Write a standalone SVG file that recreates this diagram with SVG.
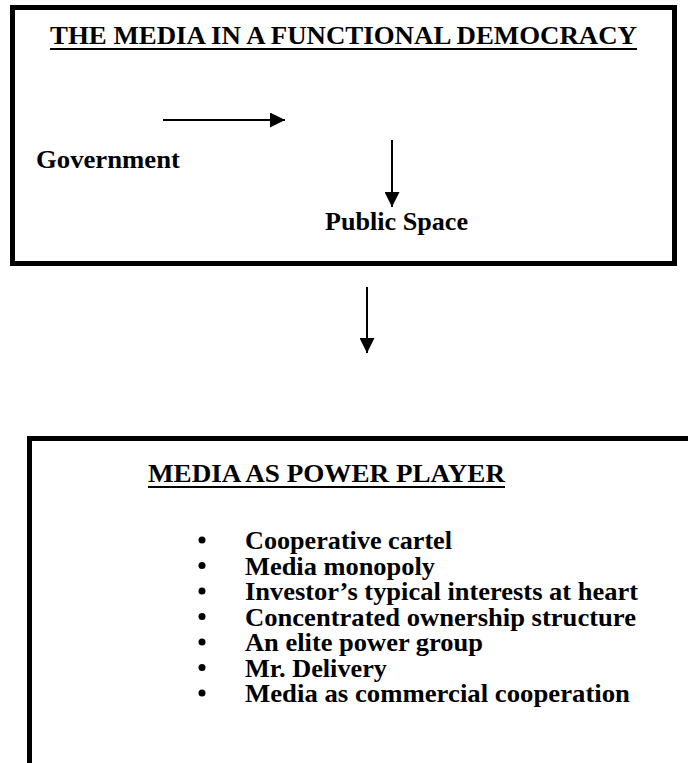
<svg xmlns="http://www.w3.org/2000/svg" width="688" height="763" viewBox="0 0 688 763">
<style>
.t{font-family:"Liberation Serif","Times New Roman",serif;font-weight:bold;font-size:26px;fill:#000}
.b{font-size:25px}
.box{fill:none;stroke:#000;stroke-width:5}
.ul{stroke:#000;stroke-width:2}
.ln{stroke:#000;stroke-width:2;fill:none}
</style>
<defs>
<marker id="ah" viewBox="0 0 10 10" refX="10" refY="5" markerWidth="15" markerHeight="15" markerUnits="userSpaceOnUse" orient="auto">
<path d="M0,0 L10,5 L0,10 Z" fill="#000"/>
</marker>
</defs>
<rect width="688" height="763" fill="#fff"/>
<g id="democracy">
<rect class="box" x="12.5" y="7.5" width="662" height="256"/>
<text class="t" x="50" y="44" textLength="587" lengthAdjust="spacingAndGlyphs">THE MEDIA IN A FUNCTIONAL DEMOCRACY</text>
<line class="ul" x1="50" y1="49" x2="637" y2="49"/>
</g>
<g id="government"><text class="t" x="36" y="168" textLength="144" lengthAdjust="spacingAndGlyphs">Government</text></g>
<g id="public-space"><text class="t" x="325" y="230" textLength="143" lengthAdjust="spacingAndGlyphs">Public Space</text></g>
<g id="power-player">
<path class="box" d="M29.5,770 V438.5 H700"/>
<text class="t" x="148" y="482" textLength="357" lengthAdjust="spacingAndGlyphs">MEDIA AS POWER PLAYER</text>
<line class="ul" x1="148" y1="487" x2="505" y2="487"/>
<g fill="#000">
<circle cx="202" cy="540" r="3.5"/>
<circle cx="202" cy="565.5" r="3.5"/>
<circle cx="202" cy="591" r="3.5"/>
<circle cx="202" cy="616.5" r="3.5"/>
<circle cx="202" cy="642" r="3.5"/>
<circle cx="202" cy="667.5" r="3.5"/>
<circle cx="202" cy="693" r="3.5"/>
</g>
<text class="t b" x="245" y="549" textLength="207" lengthAdjust="spacingAndGlyphs">Cooperative cartel</text>
<text class="t b" x="245" y="574.5" textLength="190" lengthAdjust="spacingAndGlyphs">Media monopoly</text>
<text class="t b" x="245" y="600" textLength="393" lengthAdjust="spacingAndGlyphs">Investor’s typical interests at heart</text>
<text class="t b" x="245" y="625.5" textLength="391" lengthAdjust="spacingAndGlyphs">Concentrated ownership structure</text>
<text class="t b" x="245" y="651" textLength="238" lengthAdjust="spacingAndGlyphs">An elite power group</text>
<text class="t b" x="245" y="676.5" textLength="142" lengthAdjust="spacingAndGlyphs">Mr. Delivery</text>
<text class="t b" x="245" y="702" textLength="385" lengthAdjust="spacingAndGlyphs">Media as commercial cooperation</text>
</g>
<g id="connectors">
<line class="ln" x1="163" y1="120" x2="285" y2="120" marker-end="url(#ah)"/>
<line class="ln" x1="392" y1="140" x2="392" y2="207" marker-end="url(#ah)"/>
<line class="ln" x1="367" y1="287" x2="367" y2="353" marker-end="url(#ah)"/>
</g>
</svg>
